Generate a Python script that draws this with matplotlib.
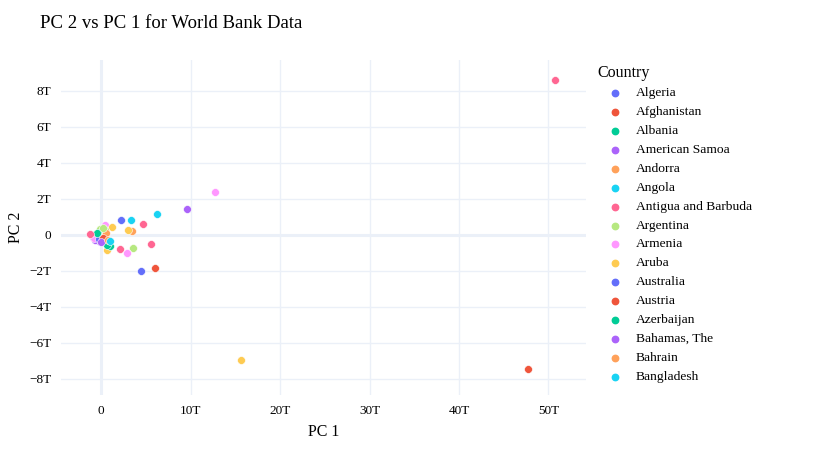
import matplotlib.pyplot as plt
from matplotlib.lines import Line2D
from matplotlib.ticker import FuncFormatter

plt.rcParams['font.family'] = ['Liberation Serif', 'DejaVu Serif']

# PCA scores (in trillions) per country
countries = [
    'Algeria', 'Afghanistan', 'Albania', 'American Samoa', 'Andorra',
    'Angola', 'Antigua and Barbuda', 'Argentina', 'Armenia', 'Aruba',
    'Australia', 'Austria', 'Azerbaijan', 'Bahamas, The', 'Bahrain',
    'Bangladesh', 'Barbados', 'Belarus', 'Belgium', 'Belize',
    'Benin', 'Bermuda', 'Bhutan', 'Bolivia', 'Bosnia and Herzegovina',
    'Botswana', 'Brazil', 'British Virgin Islands', 'Brunei Darussalam', 'Bulgaria',
    'Burkina Faso', 'Burundi', 'Cabo Verde', 'Cambodia', 'Cameroon',
    'Canada', 'Cayman Islands', 'Central African Republic', 'Chad', 'Channel Islands',
    'Chile', 'China', 'Colombia', 'Comoros', 'Congo, Dem. Rep.',
    'Congo, Rep.', 'Costa Rica',
]
pc1 = [
    2.16, -0.08, -0.30, -1.00, 0.18,
    0.52, 2.12, 3.54, 0.37, 0.63,
    4.50, 6.03, 1.00, 9.64, 3.46,
    6.20, 5.55, -0.10, 2.83, 1.23,
    -0.60, -0.50, 0.10, -0.20, 0.35,
    3.30, 50.7, 0.40, 12.7, 3.00,
    -0.90, 47.7, 0.60, -0.70, 0.50,
    -0.40, 4.66, 0.20, -0.80, 15.6,
    -0.30, 0.20, -0.50, 0.00, 0.80,
    1.00, -1.23,
]
pc2 = [
    0.82, -0.33, 0.05, 0.00, -0.09,
    -0.46, -0.80, -0.76, 0.52, -0.83,
    -2.04, -1.83, -0.61, 1.43, 0.19,
    1.13, -0.52, 0.32, -1.02, 0.43,
    -0.20, -0.05, 0.20, -0.35, -0.05,
    0.80, 8.60, 0.25, 2.37, 0.28,
    -0.10, -7.45, -0.55, -0.30, 0.10,
    -0.15, 0.57, 0.40, -0.20, -6.95,
    -0.25, -0.20, 0.10, -0.40, -0.30,
    -0.33, 0.06,
]
legend_shown = 16

palette = ['#636EFA', '#EF553B', '#00CC96', '#AB63FA', '#FFA15A',
           '#19D3F3', '#FF6692', '#B6E880', '#FF97FF', '#FECB52']

fig = plt.figure(figsize=(8.17, 4.5), dpi=100)
ax = fig.add_axes([61 / 817, 55 / 450, 525 / 817, 335 / 450])

for i, name in enumerate(countries):
    ax.scatter(pc1[i], pc2[i], s=32, color=palette[i % 10], edgecolors='white',
               linewidths=0.4, zorder=3 + i * 0.01)

ax.set_xlim(-4.5, 54.2)
ax.set_ylim(-8.9, 9.7)
ax.set_xticks([0, 10, 20, 30, 40, 50])
ax.set_yticks([-8, -6, -4, -2, 0, 2, 4, 6, 8])


def fmt(v, pos):
    if abs(v) < 1e-9:
        return '0'
    s = '%dT' % abs(round(v))
    return ('\u2212' + s) if v < 0 else s


ax.xaxis.set_major_formatter(FuncFormatter(fmt))
ax.yaxis.set_major_formatter(FuncFormatter(fmt))
ax.grid(True, color='#EBF0F8', linewidth=1, zorder=0)
ax.axvline(0, color='#EBF0F8', linewidth=2.2, zorder=1)
ax.axhline(0, color='#EBF0F8', linewidth=2.2, zorder=1)
for sp in ax.spines.values():
    sp.set_visible(False)
ax.tick_params(length=0, labelsize=9.5, pad=7)

ax.set_xlabel('PC 1', fontsize=11.5, labelpad=5)
ax.set_ylabel('PC 2', fontsize=11.5, labelpad=4)

fig.text(40 / 817, 1 - 23 / 450, 'PC 2 vs PC 1 for World Bank Data', fontsize=13.5,
         va='center', ha='left')

# legend (first entries only, like the plotly panel)
fig.text(597 / 817, 1 - 73 / 450, 'Country', fontsize=11.5, va='center', ha='left')
for i in range(legend_shown):
    y = 1 - (93 + i * 18.93) / 450
    fig.add_artist(Line2D([615 / 817], [y], marker='o', markersize=4.6, linestyle='none',
                          color=palette[i % 10], transform=fig.transFigure))
    fig.text(636 / 817, y, countries[i], fontsize=9.7, va='center', ha='left')

fig.savefig('out.png', dpi=100)
